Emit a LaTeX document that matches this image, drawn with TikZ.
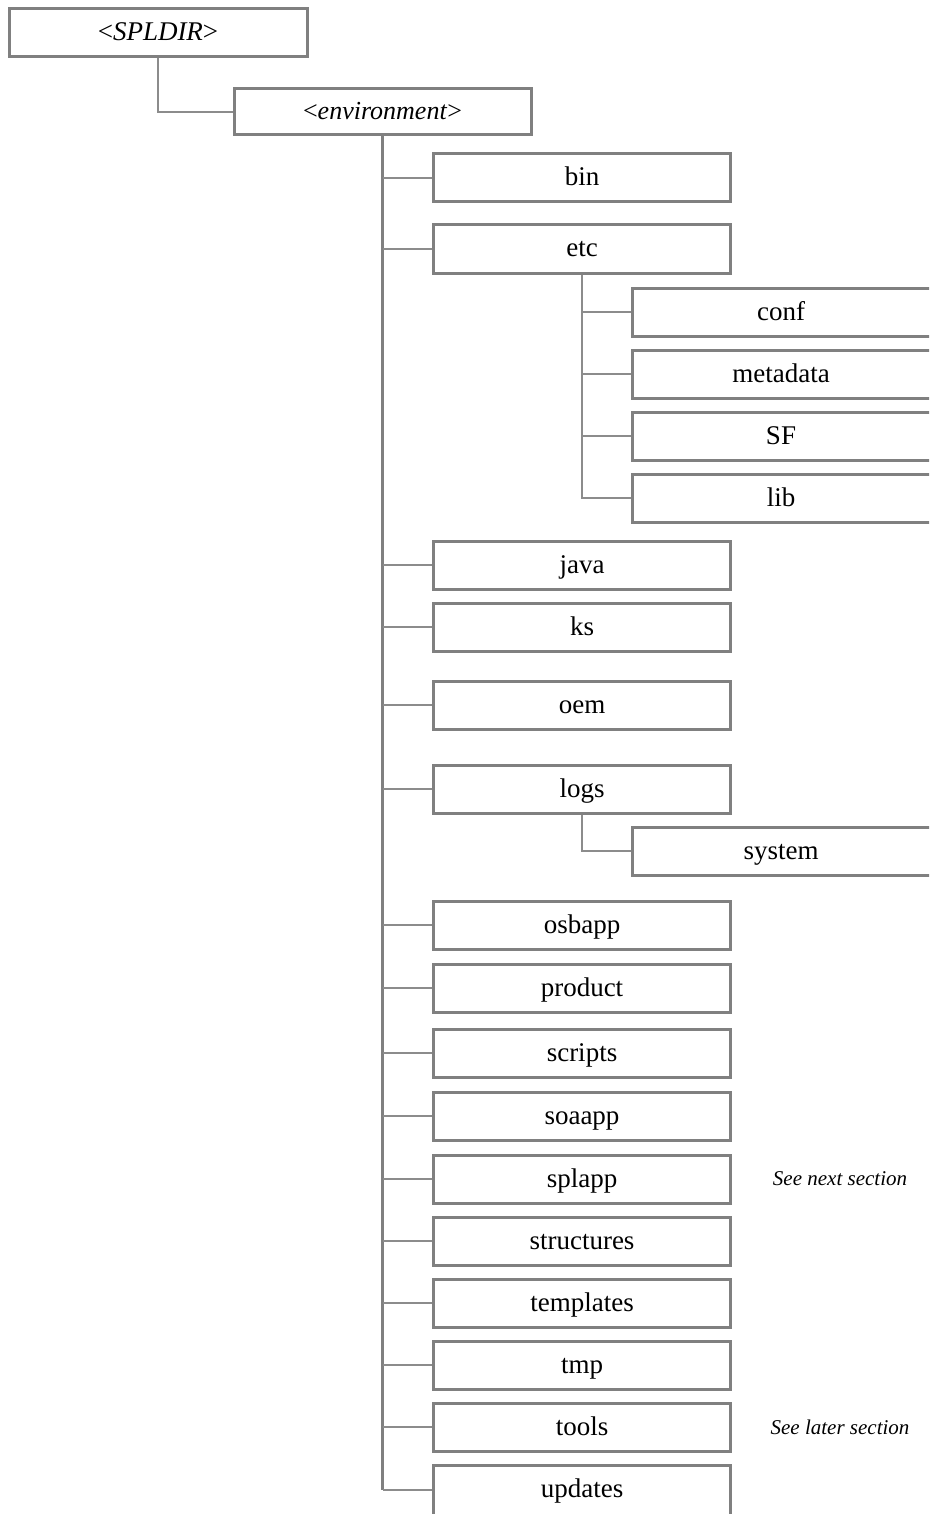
\documentclass[tikz,border=0pt]{standalone}
\usepackage{fontspec}
\setmainfont{Liberation Serif}
\begin{document}
\begin{tikzpicture}[x=1pt,y=-1pt,
  box/.style={draw=boxgray, line width=3pt, minimum width=297pt, minimum height=48pt, inner sep=0pt, text height=20pt, text depth=4pt, font=\fontsize{27}{30}\selectfont, text=black},
  subbox/.style={box, minimum width=304pt},
  conn/.style={draw=linegray, line width=1.4pt},
  trunk/.style={draw=boxgray, line width=2.6pt},
  note/.style={font=\fontsize{21}{24}\selectfont\itshape, text=black}]
\definecolor{boxgray}{RGB}{128,128,128}
\definecolor{linegray}{RGB}{140,140,140}
\clip (0,0) rectangle (929,1514);
\useasboundingbox (0,0) rectangle (929,1514);
\node[box, minimum width=298pt, minimum height=48pt, font=\fontsize{27}{30}\selectfont] (spl) at (158,33) {\textless\textit{SPLDIR}\textgreater};
\node[box, minimum width=297pt, minimum height=46pt, font=\fontsize{26}{28}\selectfont] (env) at (382.5,112) {\textless\textit{environment}\textgreater};
\foreach \n/\t/\y in {bin/bin/178, etc/etc/249, java/java/565, ks/ks/627, oem/oem/705, logs/logs/789, osbapp/osbapp/925, product/product/988, scripts/scripts/1053, soaapp/soaapp/1116, splapp/splapp/1179, structures/structures/1241, templates/templates/1303, tmp/tmp/1365, tools/tools/1427}
  {\node[box] (\n) at (582,\y) {\t};}
\node[box, minimum height=54pt, text height=17pt, text depth=7pt] (updates) at (582,1492) {updates};
\foreach \n/\t/\y in {conf/conf/312, metadata/metadata/374, SF/SF/436, lib/lib/498, system/system/851}
  {\node[subbox] (\n) at (784,\y) {\hspace*{-6pt}\t};}
\node[note] (nnext) at (840,1179) {See next section};
\node[note] (nlater) at (840,1427) {See later section};
\draw[conn] (spl.south) |- (env.west);
\draw[trunk] (env.south) -- (env.south |- 0,1490);
\foreach \n in {bin, etc, java, ks, oem, logs, osbapp, product, scripts, soaapp, splapp, structures, templates, tmp, tools}
  {\draw[conn] (env.south |- \n.west) -- (\n.west);}
\draw[conn] (env.south |- 0,1490) -- (updates.west |- 0,1490);
\draw[conn] (etc.south) |- (lib.west);
\foreach \n in {conf, metadata, SF}
  {\draw[conn] (etc.south |- \n.west) -- (\n.west);}
\draw[conn] (logs.south) |- (system.west);
\end{tikzpicture}
\end{document}
